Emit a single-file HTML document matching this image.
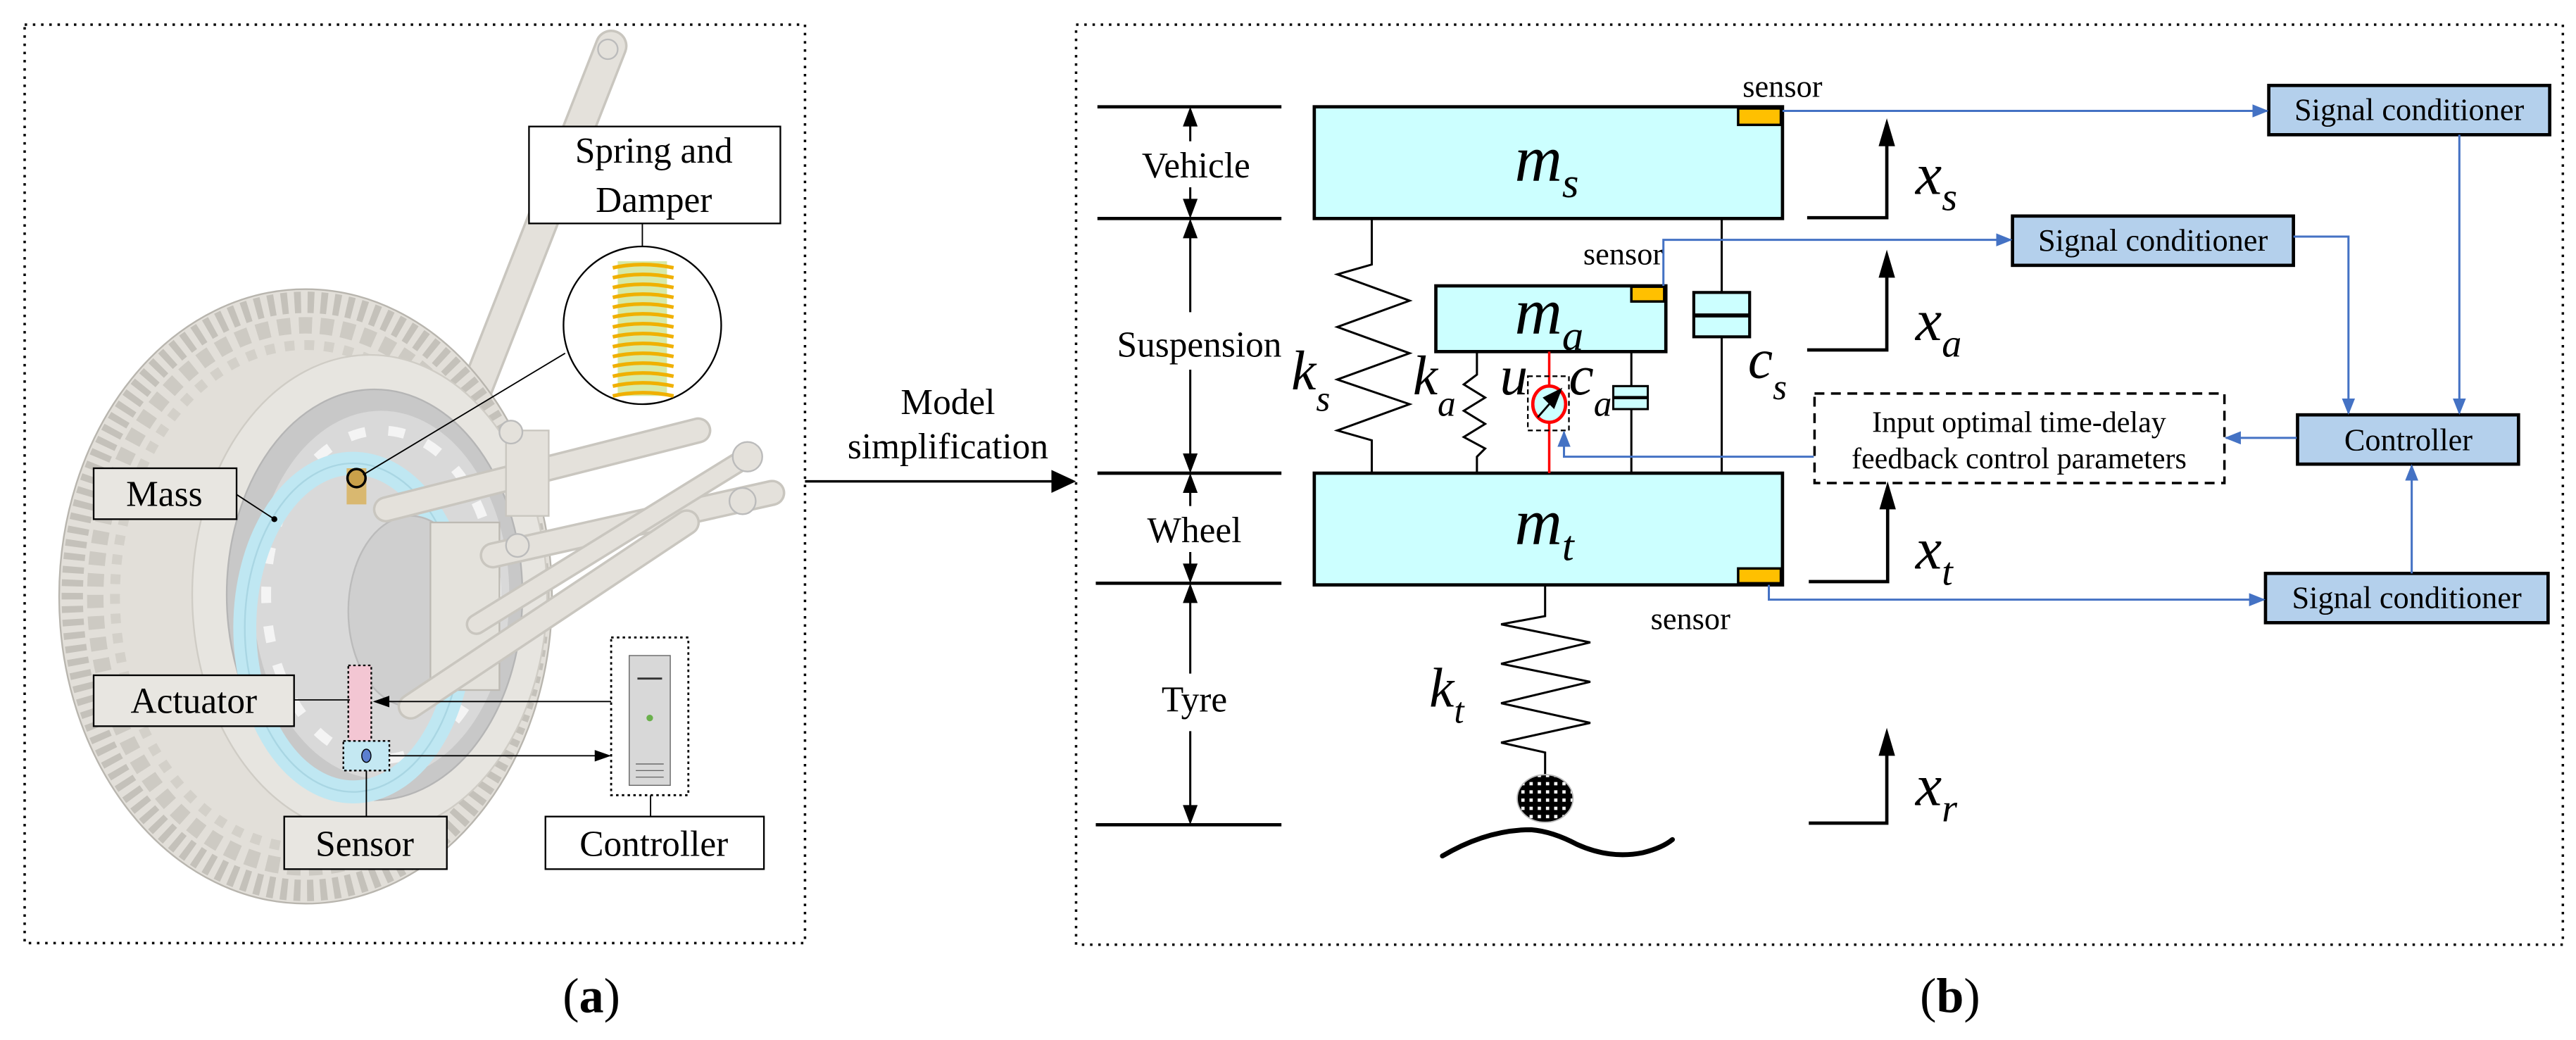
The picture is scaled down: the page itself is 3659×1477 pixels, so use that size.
<!DOCTYPE html>
<html><head><meta charset="utf-8"><style>
html,body{margin:0;padding:0;background:#fff;}
svg{display:block;}
text{font-family:"Liberation Serif","Times New Roman",serif;fill:#000;}
.i{font-style:italic;}
</style></head><body>
<svg width="3659" height="1477" viewBox="0 0 1568 633" preserveAspectRatio="none" xmlns="http://www.w3.org/2000/svg" font-family="Liberation Serif, serif">
<defs>
<marker id="bl" markerWidth="10" markerHeight="8" refX="9" refY="4" orient="auto" markerUnits="userSpaceOnUse"><path d="M0,0 L10,4 L0,8 z" fill="#4472c4"/></marker>
<marker id="bk" markerWidth="10" markerHeight="7" refX="9" refY="3.5" orient="auto" markerUnits="userSpaceOnUse"><path d="M0,0 L10,3.5 L0,7 z" fill="#000"/></marker>
<pattern id="chk" width="5" height="5" patternUnits="userSpaceOnUse"><rect width="5" height="5" fill="#000"/><rect x="1" y="1" width="2" height="2" fill="#fff"/></pattern>
</defs>

<!-- ===== Left panel ===== -->
<rect x="15" y="15" width="475" height="559" fill="none" stroke="#000" stroke-width="1.5" stroke-dasharray="1.5 3.5"/>
<line x1="372" y1="28" x2="283" y2="255" stroke="#c9c6bf" stroke-width="20" stroke-linecap="round"/>
<line x1="372" y1="28" x2="283" y2="255" stroke="#e4e1db" stroke-width="17" stroke-linecap="round"/>
<!-- tire -->
<ellipse cx="186" cy="363" rx="150" ry="187" fill="#e2dfd9" stroke="#b8b5ae" stroke-width="1"/>
<ellipse cx="186" cy="363" rx="142" ry="179" fill="none" stroke="#c4c1ba" stroke-width="13" stroke-dasharray="4 4"/>
<ellipse cx="186" cy="363" rx="128" ry="165" fill="none" stroke="#cdcac3" stroke-width="10" stroke-dasharray="8 5"/>
<ellipse cx="186" cy="363" rx="116" ry="153" fill="none" stroke="#d3d0c9" stroke-width="6" stroke-dasharray="6 6"/>
<ellipse cx="225" cy="362" rx="108" ry="146" fill="#e7e5e0" stroke="#cfccc5" stroke-width="1"/>
<ellipse cx="228" cy="362" rx="90" ry="125" fill="#c8c8c8" stroke="#b5b5b5" stroke-width="1"/>
<ellipse cx="232" cy="362" rx="78" ry="112" fill="#d9d9d9"/>
<ellipse cx="232" cy="362" rx="70" ry="100" fill="none" stroke="#f4f4f4" stroke-width="6" stroke-dasharray="10 14"/>
<ellipse cx="215" cy="382" rx="66" ry="100" fill="none" stroke="#bfe7f2" stroke-width="14"/>
<ellipse cx="215" cy="382" rx="66" ry="100" fill="none" stroke="#a9d6e3" stroke-width="1"/>
<ellipse cx="250" cy="372" rx="38" ry="58" fill="#cfcfcf" stroke="#bbb" stroke-width="1"/>
<rect x="262" y="318" width="42" height="102" fill="#e4e2dc" stroke="#bdbab3" stroke-width="1"/>
<line x1="235" y1="310" x2="425" y2="262" stroke="#c9c6bf" stroke-width="16" stroke-linecap="round"/>
<line x1="235" y1="310" x2="425" y2="262" stroke="#e4e1db" stroke-width="13" stroke-linecap="round"/>
<line x1="300" y1="338" x2="470" y2="300" stroke="#c9c6bf" stroke-width="16" stroke-linecap="round"/>
<line x1="300" y1="338" x2="470" y2="300" stroke="#e4e1db" stroke-width="13" stroke-linecap="round"/>
<line x1="250" y1="430" x2="418" y2="318" stroke="#c9c6bf" stroke-width="16" stroke-linecap="round"/>
<line x1="250" y1="430" x2="418" y2="318" stroke="#e4e1db" stroke-width="13" stroke-linecap="round"/>
<line x1="290" y1="380" x2="455" y2="278" stroke="#c9c6bf" stroke-width="13" stroke-linecap="round"/>
<line x1="290" y1="380" x2="455" y2="278" stroke="#e4e1db" stroke-width="10" stroke-linecap="round"/>
<rect x="308" y="262" width="26" height="52" fill="#e4e1db" stroke="#c9c6bf"/>
<circle cx="311" cy="263" r="7" fill="#e4e1db" stroke="#bbb"/>
<circle cx="315" cy="332" r="7" fill="#e4e1db" stroke="#bbb"/>
<circle cx="455" cy="278" r="9" fill="#e4e1db" stroke="#bbb"/>
<circle cx="452" cy="305" r="8" fill="#e4e1db" stroke="#bbb"/>
<circle cx="370" cy="30" r="6" fill="#e4e1db" stroke="#bbb"/>
<rect x="211" y="285" width="12" height="22" fill="#d9b870"/>
<circle cx="217" cy="291" r="5.5" fill="#c9a04a" stroke="#000" stroke-width="1.5"/>
<!-- Spring & Damper callout -->
<rect x="322" y="77" width="153" height="59" fill="#fff" stroke="#000" stroke-width="1"/>
<text x="398" y="99" font-size="22" text-anchor="middle">Spring and</text>
<text x="398" y="129" font-size="22" text-anchor="middle">Damper</text>
<line x1="391" y1="136" x2="391" y2="151" stroke="#000" stroke-width="0.8"/>
<circle cx="391" cy="198" r="48" fill="#fff" stroke="#000" stroke-width="1"/>
<rect x="376" y="159" width="30" height="82" fill="#d7eaa8"/>
<g stroke="#f0b000" stroke-width="2.2" fill="none">
<path d="M373,163 Q391,159 410,163 M373,169 Q391,165 410,169 M373,175 Q391,171 410,175 M373,181 Q391,177 410,181 M373,187 Q391,183 410,187 M373,193 Q391,189 410,193 M373,199 Q391,195 410,199 M373,205 Q391,201 410,205 M373,211 Q391,207 410,211 M373,217 Q391,213 410,217 M373,223 Q391,219 410,223 M373,229 Q391,225 410,229 M373,235 Q391,231 410,235 M373,241 Q391,237 410,241"/>
</g>
<line x1="344" y1="215" x2="221" y2="289" stroke="#000" stroke-width="0.8"/>
<rect x="57" y="285" width="87" height="31" fill="#e8e6e1" stroke="#000" stroke-width="1"/>
<text x="100" y="308" font-size="22" text-anchor="middle">Mass</text>
<line x1="144" y1="301" x2="167" y2="316" stroke="#000" stroke-width="0.8"/>
<circle cx="167" cy="316" r="1.8" fill="#000"/>
<rect x="212" y="405" width="14" height="47" fill="#f3c6d3" stroke="#000" stroke-width="1" stroke-dasharray="1.5 1.5"/>
<rect x="57" y="411" width="122" height="31" fill="#e8e6e1" stroke="#000" stroke-width="1"/>
<text x="118" y="434" font-size="22" text-anchor="middle">Actuator</text>
<line x1="179" y1="426" x2="213" y2="426" stroke="#000" stroke-width="0.8"/>
<rect x="209" y="451" width="28" height="18" fill="#c4e8f2" stroke="#000" stroke-width="1" stroke-dasharray="1.5 1.5"/>
<ellipse cx="223" cy="460" rx="2.8" ry="4" fill="#5b7fcf" stroke="#000" stroke-width="0.6"/>
<line x1="223" y1="469" x2="223" y2="497" stroke="#000" stroke-width="0.8"/>
<rect x="173" y="497" width="99" height="32" fill="#e8e6e1" stroke="#000" stroke-width="1"/>
<text x="222" y="521" font-size="22" text-anchor="middle">Sensor</text>
<rect x="372" y="388" width="47" height="96" fill="#fff" stroke="#000" stroke-width="1.2" stroke-dasharray="1.5 2"/>
<rect x="383" y="399" width="25" height="79" fill="#d8d8d8" stroke="#666" stroke-width="0.6"/>
<line x1="388" y1="413" x2="403" y2="413" stroke="#333" stroke-width="1.2"/>
<circle cx="395.5" cy="437" r="2" fill="#6ab04c"/>
<path d="M387,465h17M387,469h17M387,473h17" stroke="#555" stroke-width="0.5"/>
<line x1="396" y1="484" x2="396" y2="497" stroke="#000" stroke-width="0.8"/>
<rect x="332" y="497" width="133" height="32" fill="#fff" stroke="#000" stroke-width="1"/>
<text x="398" y="521" font-size="22" text-anchor="middle">Controller</text>
<line x1="372" y1="427" x2="228" y2="427" stroke="#000" stroke-width="0.8" marker-end="url(#bk)"/>
<line x1="237" y1="460" x2="371" y2="460" stroke="#000" stroke-width="0.8" marker-end="url(#bk)"/>

<text x="360" y="616" font-size="30" text-anchor="middle">(<tspan font-weight="bold">a</tspan>)</text>

<text x="577" y="252" font-size="22" text-anchor="middle">Model</text>
<text x="577" y="279" font-size="22" text-anchor="middle">simplification</text>
<line x1="490" y1="293" x2="642" y2="293" stroke="#000" stroke-width="1.5"/>
<polygon points="640,286 655,293 640,300" fill="#000"/>

<!-- ===== Right panel ===== -->
<rect x="655" y="15" width="905" height="560" fill="none" stroke="#000" stroke-width="1.5" stroke-dasharray="1.5 3.5"/>
<text x="1187" y="616" font-size="30" text-anchor="middle">(<tspan font-weight="bold">b</tspan>)</text>

<g stroke="#000" stroke-width="2">
<line x1="668" y1="65" x2="780" y2="65"/>
<line x1="668" y1="133" x2="780" y2="133"/>
<line x1="668" y1="288" x2="780" y2="288"/>
<line x1="667" y1="355" x2="780" y2="355"/>
<line x1="667" y1="502" x2="780" y2="502"/>
</g>
<g stroke="#000" stroke-width="1.3">
<line x1="724.5" y1="75" x2="724.5" y2="86"/>
<line x1="724.5" y1="114" x2="724.5" y2="122"/>
<line x1="724.5" y1="143" x2="724.5" y2="190"/>
<line x1="724.5" y1="225" x2="724.5" y2="278"/>
<line x1="724.5" y1="298" x2="724.5" y2="308"/>
<line x1="724.5" y1="336" x2="724.5" y2="345"/>
<line x1="724.5" y1="365" x2="724.5" y2="410"/>
<line x1="724.5" y1="445" x2="724.5" y2="492"/>
</g>
<g fill="#000">
<polygon points="724.5,65 720,77 729,77"/><polygon points="724.5,133 720,121 729,121"/>
<polygon points="724.5,133 720,145 729,145"/><polygon points="724.5,288 720,276 729,276"/>
<polygon points="724.5,288 720,300 729,300"/><polygon points="724.5,355 720,343 729,343"/>
<polygon points="724.5,355 720,367 729,367"/><polygon points="724.5,502 720,490 729,490"/>
</g>
<text x="728" y="108" font-size="22" text-anchor="middle">Vehicle</text>
<text x="730" y="217" font-size="22" text-anchor="middle">Suspension</text>
<text x="727" y="330" font-size="22" text-anchor="middle">Wheel</text>
<text x="727" y="433" font-size="22" text-anchor="middle">Tyre</text>

<rect x="800" y="65" width="285" height="68" fill="#ccffff" stroke="#000" stroke-width="2"/>
<rect x="1058" y="66" width="26" height="10" fill="#ffc000" stroke="#000" stroke-width="1.5"/>
<rect x="874" y="174" width="140" height="40" fill="#ccffff" stroke="#000" stroke-width="2"/>
<rect x="993" y="174.5" width="20" height="9" fill="#ffc000" stroke="#000" stroke-width="1.5"/>
<rect x="800" y="288" width="285" height="68" fill="#ccffff" stroke="#000" stroke-width="2"/>
<rect x="1058" y="346" width="26" height="9" fill="#ffc000" stroke="#000" stroke-width="1.5"/>
<text class="i" x="922" y="110" font-size="40">m<tspan font-size="26" dy="10">s</tspan></text>
<text class="i" x="922" y="203" font-size="40">m<tspan font-size="26" dy="10">a</tspan></text>
<text class="i" x="922" y="331" font-size="40">m<tspan font-size="26" dy="10">t</tspan></text>

<g stroke="#000" stroke-width="1.3" fill="none">
<polyline points="835,133 835,161 814,167 858,183 814,199 858,215 814,231 858,246 814,262 835,268 835,288"/>
<polyline points="899,214 899,228 891,234 904,242 891,250 904,258 891,266 904,273 899,278 899,288"/>
<line x1="993" y1="214" x2="993" y2="235"/><line x1="993" y1="249" x2="993" y2="288"/>
<rect x="982" y="235" width="21" height="14" fill="#ccffff"/><line x1="982" y1="242" x2="1003" y2="242" stroke-width="2"/>
<line x1="1048" y1="133" x2="1048" y2="192"/><line x1="1048" y1="205" x2="1048" y2="288"/>
<rect x="1031" y="178" width="34" height="27" fill="#ccffff" stroke-width="1.8"/><line x1="1031" y1="192" x2="1065" y2="192" stroke-width="2.5"/>
<polyline points="940.5,356 940.5,375 913.7,380 968,391 913.7,404 968,415 913.7,428 968,440 913.7,452 940.5,458 940.5,472"/>
</g>
<line x1="943" y1="214" x2="943" y2="288" stroke="#ff0000" stroke-width="1.5"/>
<rect x="930" y="229" width="25" height="33" fill="none" stroke="#000" stroke-width="1" stroke-dasharray="3 2"/>
<ellipse cx="943" cy="246" rx="10" ry="11" fill="#ccffff" stroke="#ff0000" stroke-width="2"/>
<line x1="936" y1="254" x2="950" y2="238" stroke="#000" stroke-width="1.2"/>
<polygon points="951,236 939,242 946,249" fill="#000"/>
<text class="i" x="786" y="237" font-size="34">k<tspan font-size="22" dy="13">s</tspan></text>
<text class="i" x="860" y="240" font-size="34">k<tspan font-size="22" dy="13">a</tspan></text>
<text class="i" x="913" y="240" font-size="34">u</text>
<text class="i" x="955" y="240" font-size="34">c<tspan font-size="22" dy="13">a</tspan></text>
<text class="i" x="1064" y="230" font-size="34">c<tspan font-size="22" dy="13">s</tspan></text>
<text class="i" x="870" y="430" font-size="34">k<tspan font-size="22" dy="10">t</tspan></text>
<ellipse cx="940.5" cy="486" rx="17" ry="14.5" fill="url(#chk)" stroke="#bbb" stroke-width="0.8"/>
<path d="M878,521 Q905,505 932,505 Q945,506 960,514 Q980,523 1000,519 Q1012,516 1018,511" fill="none" stroke="#000" stroke-width="3" stroke-linecap="round"/>

<g stroke="#000" stroke-width="2" fill="none">
<polyline points="1100,132.5 1148.5,132.5 1148.5,85"/>
<polyline points="1100,213 1148.5,213 1148.5,165"/>
<polyline points="1101,354 1149,354 1149,306"/>
<polyline points="1101,501 1148.5,501 1148.5,456"/>
</g>
<g fill="#000">
<polygon points="1148.5,72 1143.5,89 1153.5,89"/>
<polygon points="1148.5,152 1143.5,169 1153.5,169"/>
<polygon points="1149,293 1144,310 1154,310"/>
<polygon points="1148.5,443 1143.5,460 1153.5,460"/>
</g>
<text class="i" x="1166" y="118" font-size="36">x<tspan font-size="24" dy="10">s</tspan></text>
<text class="i" x="1166" y="207" font-size="36">x<tspan font-size="24" dy="10">a</tspan></text>
<text class="i" x="1166" y="346" font-size="36">x<tspan font-size="24" dy="10">t</tspan></text>
<text class="i" x="1166" y="490" font-size="36">x<tspan font-size="24" dy="10">r</tspan></text>

<text x="1085" y="59" font-size="19" text-anchor="middle">sensor</text>
<text x="988" y="161" font-size="19" text-anchor="middle">sensor</text>
<text x="1029" y="383" font-size="19" text-anchor="middle">sensor</text>

<g fill="#b4d0ec" stroke="#000" stroke-width="2">
<rect x="1381" y="52" width="171" height="30"/>
<rect x="1225" y="131.5" width="171" height="30"/>
<rect x="1398.5" y="252.5" width="134.5" height="30"/>
<rect x="1379" y="349" width="172" height="30"/>
</g>
<text x="1466.5" y="73" font-size="19" text-anchor="middle">Signal conditioner</text>
<text x="1310.5" y="152.5" font-size="19" text-anchor="middle">Signal conditioner</text>
<text x="1466" y="274" font-size="19" text-anchor="middle">Controller</text>
<text x="1465" y="370" font-size="19" text-anchor="middle">Signal conditioner</text>
<rect x="1104.5" y="239.5" width="249.5" height="54.5" fill="none" stroke="#000" stroke-width="1.5" stroke-dasharray="6 4"/>
<text x="1229" y="263" font-size="18" text-anchor="middle">Input optimal time-delay</text>
<text x="1229" y="285" font-size="18" text-anchor="middle">feedback control parameters</text>

<g stroke="#4472c4" stroke-width="1.3" fill="none">
<line x1="1085" y1="67.5" x2="1380" y2="67.5" marker-end="url(#bl)"/>
<polyline points="1012.5,174 1012.5,146 1224,146" marker-end="url(#bl)"/>
<polyline points="1396,144 1429.5,144 1429.5,251.5" marker-end="url(#bl)"/>
<line x1="1497" y1="82" x2="1497" y2="251.5" marker-end="url(#bl)"/>
<line x1="1468" y1="349" x2="1468" y2="283.5" marker-end="url(#bl)"/>
<line x1="1398" y1="266.5" x2="1355" y2="266.5" marker-end="url(#bl)"/>
<polyline points="1104,278 952,278 952,263" marker-end="url(#bl)"/>
<polyline points="1076.7,356 1076.7,365 1378,365" marker-end="url(#bl)"/>
</g>
</svg>
</body></html>
